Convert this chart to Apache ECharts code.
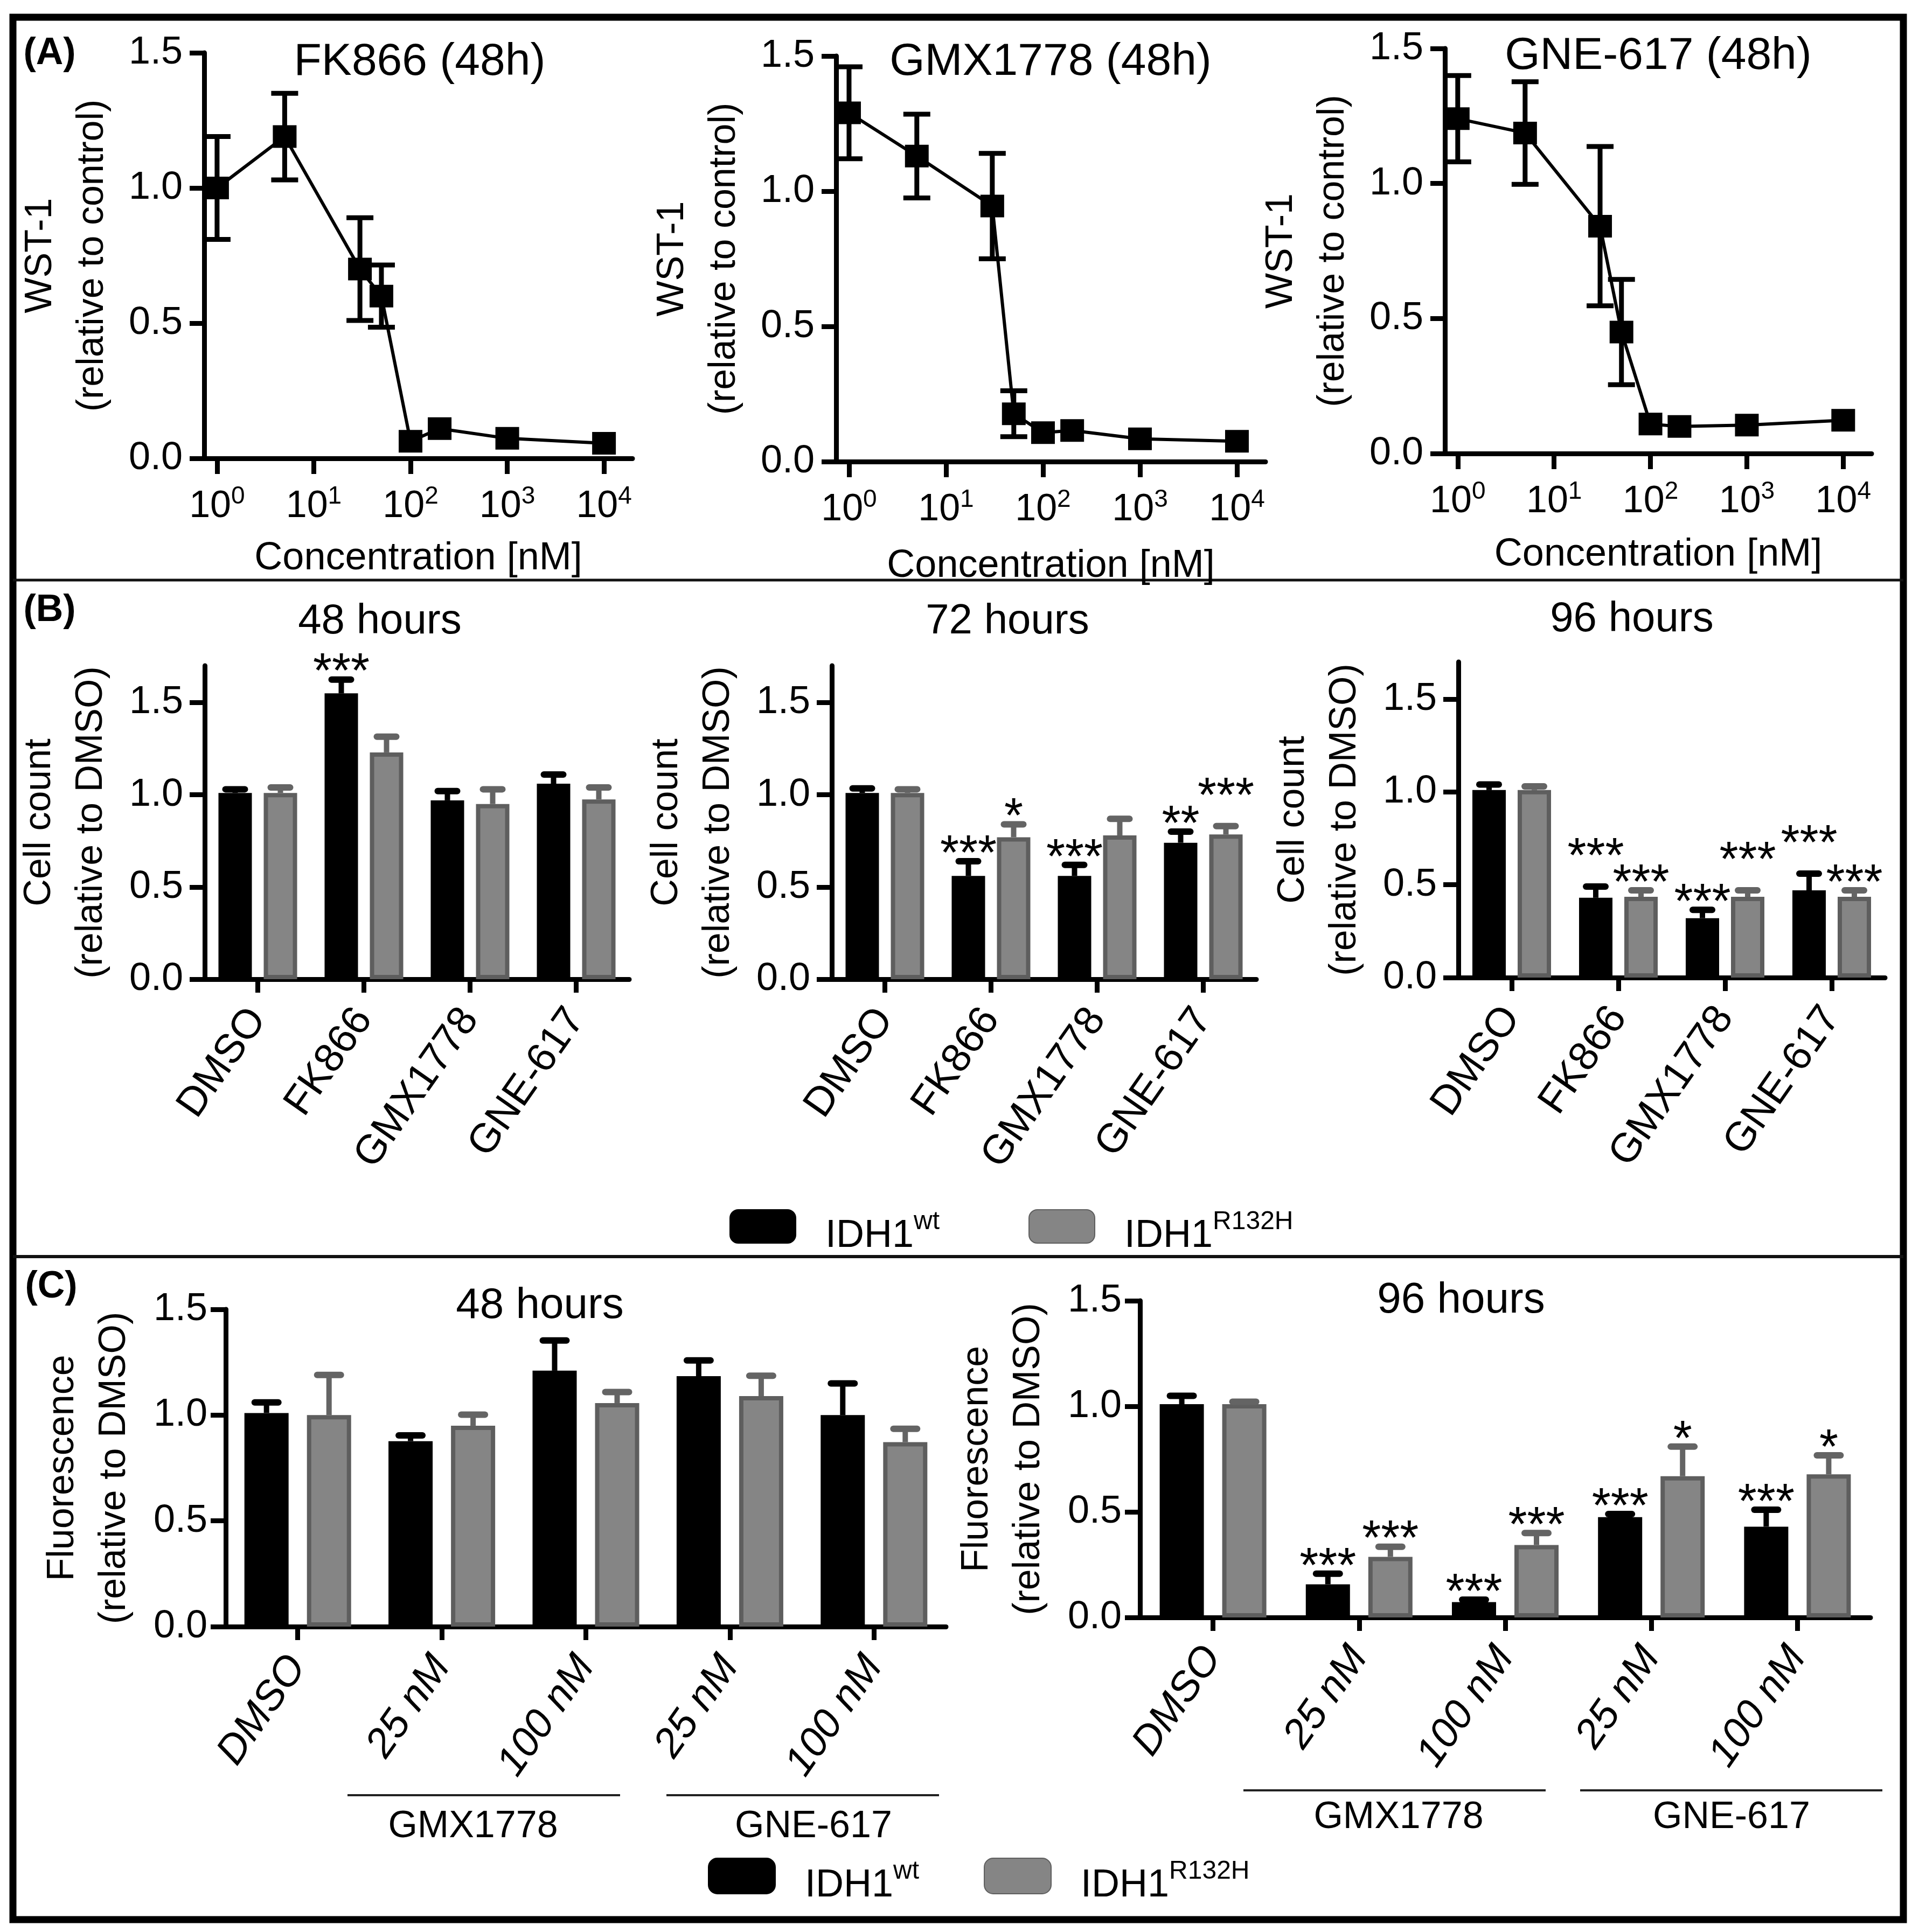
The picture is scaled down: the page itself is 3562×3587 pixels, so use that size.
<!DOCTYPE html>
<html><head><meta charset="utf-8">
<script src="https://cdn.jsdelivr.net/npm/echarts@6/dist/echarts.min.js"></script>
<style>html,body{margin:0;padding:0;background:#fff}#c{width:3562px;height:3587px}</style>
</head><body><div id="c"></div>
<script>
// ---------------- DATA ----------------
// Panel A: WST-1 dose response (48h)
const concentrations = [1, 5, 30, 50, 100, 200, 1000, 10000];
const fk866Mean = [1.00, 1.19, 0.70, 0.60, 0.063, 0.11, 0.074, 0.056];
const fk866Err  = [0.19, 0.16, 0.19, 0.115, 0, 0, 0, 0];
const gmx1778Mean = [1.29, 1.13, 0.945, 0.177, 0.107, 0.115, 0.084, 0.075];
const gmx1778Err  = [0.17, 0.155, 0.195, 0.085, 0, 0, 0, 0];
const gne617Mean = [1.24, 1.187, 0.842, 0.45, 0.109, 0.10, 0.105, 0.123];
const gne617Err  = [0.16, 0.19, 0.295, 0.195, 0, 0, 0, 0];
const concTicks = [1, 10, 100, 1000, 10000];
const panelATitles = ['FK866 (48h)', 'GMX1778 (48h)', 'GNE-617 (48h)'];

// Panel B: cell count
const drugCategories = ['DMSO', 'FK866', 'GMX1778', 'GNE-617'];
const countTicks = [0, 0.5, 1.0, 1.5];
const panelBTitles = ['48 hours', '72 hours', '96 hours'];
const count48Wt = [1.01, 1.55, 0.97, 1.06];
const count48WtErr = [0.02, 0.075, 0.05, 0.05];
const count48Mut = [1.01, 1.23, 0.95, 0.975];
const count48MutErr = [0.03, 0.085, 0.08, 0.065];
const count48WtStars = ['', '***', '', ''];
const count48MutStars = ['', '', '', ''];
const count72Wt = [1.01, 0.56, 0.56, 0.74];
const count72WtErr = [0.025, 0.08, 0.06, 0.06];
const count72Mut = [1.01, 0.77, 0.78, 0.785];
const count72MutErr = [0.02, 0.07, 0.09, 0.045];
const count72WtStars = ['', '***', '***', '**'];
const count72MutStars = ['', '*', '', '***'];
const count96Wt = [1.01, 0.43, 0.32, 0.47];
const count96WtErr = [0.03, 0.06, 0.045, 0.09];
const count96Mut = [1.01, 0.435, 0.435, 0.435];
const count96MutErr = [0.02, 0.035, 0.035, 0.035];
const count96WtStars = ['', '***', '***', '***'];
const count96MutStars = ['', '***', '***', '***'];

// Panel C: fluorescence
const doseCategories = ['DMSO', '25 nM', '100 nM', '25 nM', '100 nM'];
const fluoTicks = [0, 0.5, 1.0, 1.5];
const panelCTitles = ['48 hours', '96 hours'];
const groupLabels = ['GMX1778', 'GNE-617'];
const fluo48Wt = [1.01, 0.877, 1.21, 1.184, 1.0];
const fluo48WtErr = [0.05, 0.027, 0.143, 0.075, 0.15];
const fluo48Mut = [1.0, 0.95, 1.057, 1.09, 0.872];
const fluo48MutErr = [0.19, 0.052, 0.052, 0.096, 0.063];
const fluo48WtStars = ['', '', '', '', ''];
const fluo48MutStars = ['', '', '', '', ''];
const fluo96Wt = [1.01, 0.157, 0.073, 0.475, 0.43];
const fluo96WtErr = [0.04, 0.05, 0.011, 0.015, 0.08];
const fluo96Mut = [1.01, 0.287, 0.343, 0.669, 0.678];
const fluo96MutErr = [0.012, 0.048, 0.057, 0.14, 0.09];
const fluo96WtStars = ['', '***', '***', '***', '***'];
const fluo96MutStars = ['', '***', '***', '*', '*'];

const legendNames = ['IDH1wt', 'IDH1R132H'];

// ---------------- STYLE / LAYOUT ----------------
const FONT = '"Liberation Sans", Arial, sans-serif';
const BLACK = '#000';
const GRAY = '#858585';
const GRAY_BORDER = '#5e5e5e';
const GRAY_ERR = '#646464';
const STAR_SIZE = 90;

const chart = echarts.init(document.getElementById('c'), null, {renderer: 'canvas'});

const grids = [
  {left: 379, top: 98, width: 795, height: 753},
  {left: 1552, top: 104, width: 797, height: 753},
  {left: 2682, top: 90, width: 792, height: 752},
  {left: 380, top: 1236, width: 788, height: 582},
  {left: 1544, top: 1236, width: 788, height: 582},
  {left: 2707, top: 1229, width: 792, height: 586},
  {left: 419, top: 2431, width: 1337, height: 589},
  {left: 2116, top: 2415, width: 1356, height: 588}
];

const xAxes = [], yAxes = [], series = [];

function lineErr(color) {
  return function (params, api) {
    const e = api.value(2);
    if (!e) return null;
    const x = api.value(0), m = api.value(1);
    const t = api.coord([x, m + e]);
    const b = api.coord([x, m - e]);
    const cw = 25;
    const st = {stroke: color, lineWidth: 9};
    return {type: 'group', children: [
      {type: 'line', shape: {x1: t[0], y1: t[1], x2: b[0], y2: b[1]}, style: st},
      {type: 'line', shape: {x1: t[0] - cw, y1: t[1], x2: t[0] + cw, y2: t[1]}, style: st},
      {type: 'line', shape: {x1: b[0] - cw, y1: b[1], x2: b[0] + cw, y2: b[1]}, style: st}
    ]};
  };
}

// own: [values, errs, stars]; other: [values, errs, stars] of the neighbouring bar
function barErr(own, other, offset, color, capHalf, preferLift) {
  return function (params, api) {
    const i = params.dataIndex;
    const c = api.value(0), v = api.value(1), e = api.value(2);
    const base = api.coord([c, v]);
    const top = api.coord([c, v + e]);
    const x = base[0] + offset;
    const children = [
      {type: 'line', shape: {x1: x, y1: base[1], x2: x, y2: top[1]}, style: {stroke: color, lineWidth: 10}},
      {type: 'line', shape: {x1: x - capHalf, y1: top[1], x2: x + capHalf, y2: top[1]}, style: {stroke: color, lineWidth: 12, lineCap: 'round'}}
    ];
    const star = own[2][i];
    if (star) {
      let y = top[1] - 10;
      if (other[2][i]) {
        const oTop = api.coord([c, other[0][i] + other[1][i]])[1];
        const d = top[1] - oTop; // negative => own is higher
        if (Math.abs(d) < 40 && (d < 0 || (d === 0 && preferLift))) {
          y = Math.min(top[1], oTop) - 10 - 42;
        }
      }
      children.push({type: 'text', x: x, y: y, style: {
        text: star, fill: BLACK, fontSize: STAR_SIZE, fontFamily: FONT, align: 'center', verticalAlign: 'middle'}});
    }
    return {type: 'group', children: children};
  };
}

// ---- Panel A ----
const aMeans = [fk866Mean, gmx1778Mean, gne617Mean];
const aErrs = [fk866Err, gmx1778Err, gne617Err];
const aNameGaps = [150, 158, 152];
for (let i = 0; i < 3; i++) {
  xAxes.push({
    type: 'log', gridIndex: i, logBase: 10, min: 0.736, max: 19700,
    axisLine: {onZero: false, lineStyle: {color: BLACK, width: 9}},
    axisTick: {show: true, length: 29, lineStyle: {color: BLACK, width: 9}, customValues: concTicks},
    minorTick: {show: false}, splitLine: {show: false},
    axisLabel: {
      customValues: concTicks, margin: 48, color: BLACK,
      formatter: v => '{b|10}{s|' + Math.round(Math.log10(v)) + '}',
      rich: {b: {fontSize: 70, lineHeight: 84, fontFamily: FONT, color: BLACK},
             s: {fontSize: 46, lineHeight: 46, verticalAlign: 'top', fontFamily: FONT, color: BLACK}}
    },
    name: 'Concentration [nM]', nameLocation: 'middle', nameGap: aNameGaps[i],
    nameTextStyle: {fontSize: 72, color: BLACK, fontFamily: FONT}
  });
  yAxes.push({
    type: 'value', gridIndex: i, min: 0, max: 1.5, interval: 0.5,
    axisLine: {show: true, onZero: false, lineStyle: {color: BLACK, width: 9}},
    axisTick: {show: true, length: 27, lineStyle: {color: BLACK, width: 9}},
    splitLine: {show: false},
    axisLabel: {fontSize: 72, margin: 40, color: BLACK, fontFamily: FONT, formatter: v => v.toFixed(1)},
    name: 'WST-1\n(relative to control)', nameLocation: 'middle', nameGap: 159,
    nameTextStyle: {fontSize: 70, lineHeight: 96, color: BLACK, fontFamily: FONT}
  });
  const pts = concentrations.map((c, k) => [c, aMeans[i][k], aErrs[i][k]]);
  series.push({
    type: 'line', name: panelATitles[i], xAxisIndex: i, yAxisIndex: i,
    data: pts.map(p => [p[0], p[1]]), symbol: 'rect', symbolSize: [44, 42],
    lineStyle: {color: BLACK, width: 6}, itemStyle: {color: BLACK}, z: 3
  });
  series.push({
    type: 'custom', name: panelATitles[i] + ' error', xAxisIndex: i, yAxisIndex: i,
    data: pts, encode: {x: 0, y: 1}, renderItem: lineErr(BLACK), z: 4, clip: false
  });
}

// ---- Bar panels helper ----
function barPanel(idx, cats, ticks, maxY, yName, wt, wtErr, mut, mutErr, wtStars, mutStars, opts) {
  xAxes.push({
    type: 'category', gridIndex: idx, data: cats,
    axisLine: {onZero: false, lineStyle: {color: BLACK, width: 9}},
    axisTick: {show: true, alignWithLabel: true, length: 25, lineStyle: {color: BLACK, width: 9}},
    axisLabel: {interval: 0, rotate: 55, margin: opts.labelMargin, fontSize: opts.labelSize, color: BLACK,
                fontFamily: FONT, fontStyle: opts.italic ? 'italic' : 'normal'},
    splitLine: {show: false}
  });
  yAxes.push({
    type: 'value', gridIndex: idx, min: 0, max: maxY,
    axisLine: {show: true, onZero: false, lineStyle: {color: BLACK, width: 9}},
    axisTick: {show: true, length: 28, lineStyle: {color: BLACK, width: 9}, customValues: ticks},
    splitLine: {show: false},
    axisLabel: {customValues: ticks, fontSize: 72, margin: opts.yLabelMargin, color: BLACK,
                fontFamily: FONT, formatter: v => Number(v).toFixed(1)},
    name: yName, nameLocation: 'middle', nameGap: opts.nameGap,
    nameTextStyle: {fontSize: 70, lineHeight: 96, color: BLACK, fontFamily: FONT}
  });
  const off = (opts.barWidth + opts.barWidth * opts.gapFrac) / 2;
  series.push({
    type: 'bar', name: legendNames[0], xAxisIndex: idx, yAxisIndex: idx, data: wt,
    barWidth: opts.barWidth, barGap: (opts.gapFrac * 100) + '%',
    itemStyle: {color: BLACK, borderColor: BLACK, borderWidth: 8}
  });
  series.push({
    type: 'bar', name: legendNames[1], xAxisIndex: idx, yAxisIndex: idx, data: mut,
    barWidth: opts.barWidth, barGap: (opts.gapFrac * 100) + '%',
    itemStyle: {color: GRAY, borderColor: GRAY_BORDER, borderWidth: 8}
  });
  const wtSet = [wt, wtErr, wtStars], mutSet = [mut, mutErr, mutStars];
  series.push({
    type: 'custom', name: legendNames[0] + ' error', xAxisIndex: idx, yAxisIndex: idx,
    data: cats.map((c, k) => [k, wt[k], wtErr[k]]), encode: {x: 0, y: 1},
    renderItem: barErr(wtSet, mutSet, -off, BLACK, opts.capHalf, true), z: 5, clip: false
  });
  series.push({
    type: 'custom', name: legendNames[1] + ' error', xAxisIndex: idx, yAxisIndex: idx,
    data: cats.map((c, k) => [k, mut[k], mutErr[k]]), encode: {x: 0, y: 1},
    renderItem: barErr(mutSet, wtSet, off, GRAY_ERR, opts.capHalf, false), z: 5, clip: false
  });
}

const bOpts = {barWidth: 62, gapFrac: 0.355, capHalf: 18, labelMargin: 62, labelSize: 76, yLabelMargin: 40, nameGap: 162, italic: false};
barPanel(3, drugCategories, countTicks, 1.7, 'Cell count\n(relative to DMSO)', count48Wt, count48WtErr, count48Mut, count48MutErr, count48WtStars, count48MutStars, bOpts);
barPanel(4, drugCategories, countTicks, 1.7, 'Cell count\n(relative to DMSO)', count72Wt, count72WtErr, count72Mut, count72MutErr, count72WtStars, count72MutStars, bOpts);
barPanel(5, drugCategories, countTicks, 1.7, 'Cell count\n(relative to DMSO)', count96Wt, count96WtErr, count96Mut, count96MutErr, count96WtStars, count96MutStars, bOpts);

const cOpts = {barWidth: 82, gapFrac: 0.415, capHalf: 22, labelMargin: 62, labelSize: 76, yLabelMargin: 34, nameGap: 158, italic: true};
barPanel(6, doseCategories, fluoTicks, 1.5, 'Fluorescence\n(relative to DMSO)', fluo48Wt, fluo48WtErr, fluo48Mut, fluo48MutErr, fluo48WtStars, fluo48MutStars, cOpts);
barPanel(7, doseCategories, fluoTicks, 1.5, 'Fluorescence\n(relative to DMSO)', fluo96Wt, fluo96WtErr, fluo96Mut, fluo96MutErr, fluo96WtStars, fluo96MutStars, cOpts);

// ---- titles ----
const titlePos = [[779, 116], [1950, 116], [3078, 105], [705, 1154], [1870, 1154], [3029, 1150], [1002, 2425], [2712, 2415]];
const titleSizes = [84, 84, 84, 78, 78, 78, 80, 80];
const titleTexts = panelATitles.concat(panelBTitles, panelCTitles);
const titles = titleTexts.map((t, i) => ({
  text: t, left: titlePos[i][0], top: titlePos[i][1], padding: 0,
  textAlign: 'center', textVerticalAlign: 'middle',
  textStyle: {fontSize: titleSizes[i], fontWeight: 'normal', color: BLACK, fontFamily: FONT}
}));

// ---- legends ----
const legendRich = {
  b: {fontSize: 72, lineHeight: 100, fontFamily: FONT, color: BLACK},
  s: {fontSize: 48, lineHeight: 48, verticalAlign: 'top', fontFamily: FONT, color: BLACK}
};
const legendFmt = n => n === legendNames[0] ? '{b|IDH1}{s|wt}' : '{b|IDH1}{s|R132H}';
const legends = [
  {left: 1354, top: 2245, itemWidth: 122, itemHeight: 62, itemGap: 165, padding: 0,
   icon: 'roundRect', selectedMode: false, data: legendNames, formatter: legendFmt,
   textStyle: {rich: legendRich, padding: [36, 0, 0, 50]}},
  {left: 1314, top: 3449, itemWidth: 124, itemHeight: 66, itemGap: 120, padding: 0,
   icon: 'roundRect', selectedMode: false, data: legendNames, formatter: legendFmt,
   textStyle: {rich: legendRich, padding: [36, 0, 0, 50]}}
];

// ---- decorations ----
const graphic = [
  {type: 'rect', shape: {x: 24, y: 32, width: 3509, height: 3532}, style: {fill: 'none', stroke: BLACK, lineWidth: 13}, silent: true},
  {type: 'line', shape: {x1: 24, y1: 1077, x2: 3533, y2: 1077}, style: {stroke: '#111', lineWidth: 5}},
  {type: 'line', shape: {x1: 24, y1: 2333, x2: 3533, y2: 2333}, style: {stroke: '#111', lineWidth: 6}},
  {type: 'text', x: 92, y: 100, style: {text: '(A)', fontSize: 70, fontWeight: 'bold', fontFamily: FONT, fill: BLACK, align: 'center', verticalAlign: 'middle'}},
  {type: 'text', x: 92, y: 1134, style: {text: '(B)', fontSize: 70, fontWeight: 'bold', fontFamily: FONT, fill: BLACK, align: 'center', verticalAlign: 'middle'}},
  {type: 'text', x: 95, y: 2390, style: {text: '(C)', fontSize: 70, fontWeight: 'bold', fontFamily: FONT, fill: BLACK, align: 'center', verticalAlign: 'middle'}},
  // group brackets panel C
  {type: 'line', shape: {x1: 645, y1: 3333, x2: 1151, y2: 3333}, style: {stroke: '#222', lineWidth: 4}},
  {type: 'line', shape: {x1: 1237, y1: 3333, x2: 1743, y2: 3333}, style: {stroke: '#222', lineWidth: 4}},
  {type: 'text', x: 878, y: 3392, style: {text: groupLabels[0], fontSize: 70, fontFamily: FONT, fill: BLACK, align: 'center', verticalAlign: 'middle'}},
  {type: 'text', x: 1510, y: 3392, style: {text: groupLabels[1], fontSize: 70, fontFamily: FONT, fill: BLACK, align: 'center', verticalAlign: 'middle'}},
  {type: 'line', shape: {x1: 2308, y1: 3324, x2: 2869, y2: 3324}, style: {stroke: '#222', lineWidth: 4}},
  {type: 'line', shape: {x1: 2933, y1: 3324, x2: 3494, y2: 3324}, style: {stroke: '#222', lineWidth: 4}},
  {type: 'text', x: 2596, y: 3375, style: {text: groupLabels[0], fontSize: 70, fontFamily: FONT, fill: BLACK, align: 'center', verticalAlign: 'middle'}},
  {type: 'text', x: 3214, y: 3375, style: {text: groupLabels[1], fontSize: 70, fontFamily: FONT, fill: BLACK, align: 'center', verticalAlign: 'middle'}}
];

chart.setOption({
  animation: false,
  backgroundColor: '#fff',
  textStyle: {fontFamily: FONT, color: BLACK},
  title: titles,
  legend: legends,
  grid: grids,
  xAxis: xAxes,
  yAxis: yAxes,
  series: series,
  graphic: graphic
});
</script>
</body></html>
